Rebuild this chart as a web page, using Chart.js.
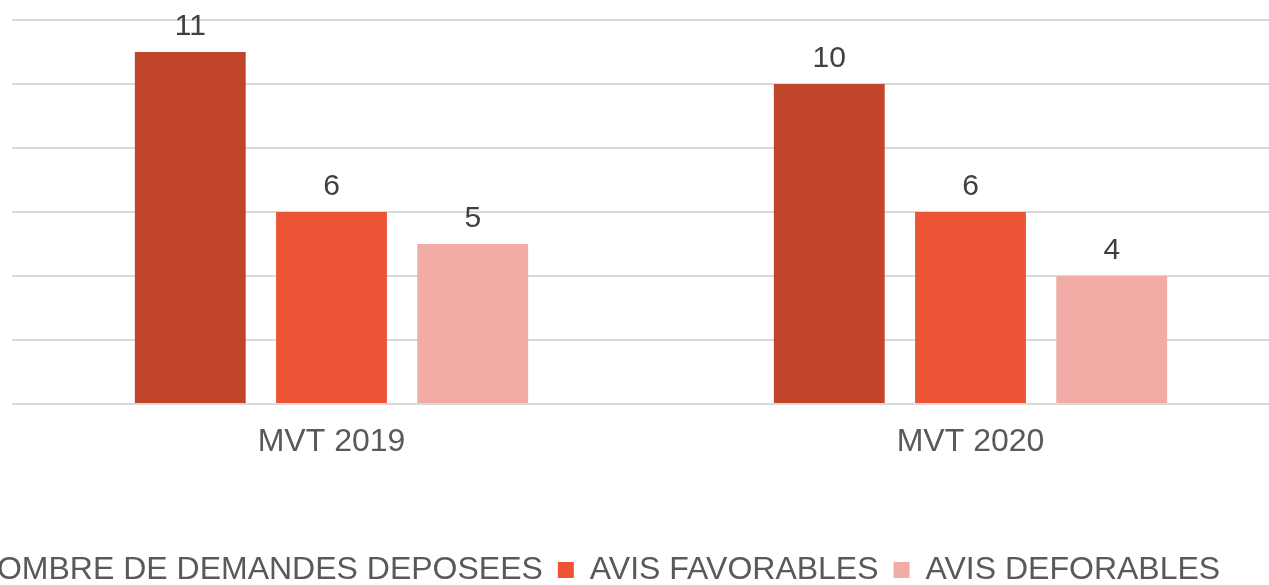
<!DOCTYPE html>
<html><head><meta charset="utf-8">
<script src="https://cdn.jsdelivr.net/npm/chart.js@4/dist/chart.umd.min.js"></script>
<style>
html,body{margin:0;padding:0;overflow:hidden;width:1269px;height:585px;background:#fff}
#wrap{position:absolute;left:-128px;top:0;width:1418px;height:596px}
</style></head><body>
<div id="wrap"><canvas id="c"></canvas></div>
<script>
const categories = ['MVT 2019', 'MVT 2020'];
const seriesLabels = ['NOMBRE DE DEMANDES DEPOSEES', 'AVIS FAVORABLES', 'AVIS DEFORABLES'];
const demandes = [11, 10];
const favorables = [6, 6];
const deforables = [5, 4];
const seriesColors = ['#C1452A', '#EB5535', '#F2ACA6'];
const yMin = 0, yMax = 12, yStep = 2;

const FONT = '"Liberation Sans", Arial, Helvetica, sans-serif';
Chart.defaults.font.family = FONT;

const valueLabels = {
  id: 'valueLabels',
  afterDatasetsDraw(chart) {
    const ctx = chart.ctx;
    ctx.save();
    ctx.font = '30px ' + FONT;
    ctx.fillStyle = '#404040';
    ctx.textAlign = 'center';
    ctx.textBaseline = 'alphabetic';
    chart.data.datasets.forEach((ds, i) => {
      const meta = chart.getDatasetMeta(i);
      meta.data.forEach((el, j) => {
        ctx.fillText(String(ds.data[j]), el.x, el.y - 17);
      });
    });
    ctx.restore();
  }
};

const seriesData = [demandes, favorables, deforables];
new Chart(document.getElementById('c'), {
  type: 'bar',
  data: {
    labels: categories,
    datasets: seriesLabels.map((lab, i) => ({
      label: lab,
      data: seriesData[i],
      backgroundColor: seriesColors[i],
      borderWidth: 0,
      categoryPercentage: 0.663,
      barPercentage: 0.785
    }))
  },
  options: {
    responsive: true,
    maintainAspectRatio: false,
    animation: false,
    events: [],
    layout: { padding: { top: 20, left: 0, right: 0, bottom: 0 } },
    plugins: {
      tooltip: { enabled: false },
      legend: {
        position: 'bottom',
        labels: {
          boxWidth: 16,
          boxHeight: 16,
          padding: 15,
          color: '#595959',
          font: { size: 32 }
        }
      }
    },
    scales: {
      x: {
        grid: { display: false, drawTicks: false },
        border: { display: false },
        ticks: { color: '#595959', font: { size: 32 }, padding: 19 },
        afterFit(s) { s.height = 135; }
      },
      y: {
        min: yMin, max: yMax,
        ticks: { stepSize: yStep, display: false },
        grid: { color: '#D9D9D9', lineWidth: 2, drawTicks: false },
        border: { display: false },
        afterFit(s) { s.width = 140; }
      }
    }
  },
  plugins: [valueLabels]
});
</script>
</body></html>
